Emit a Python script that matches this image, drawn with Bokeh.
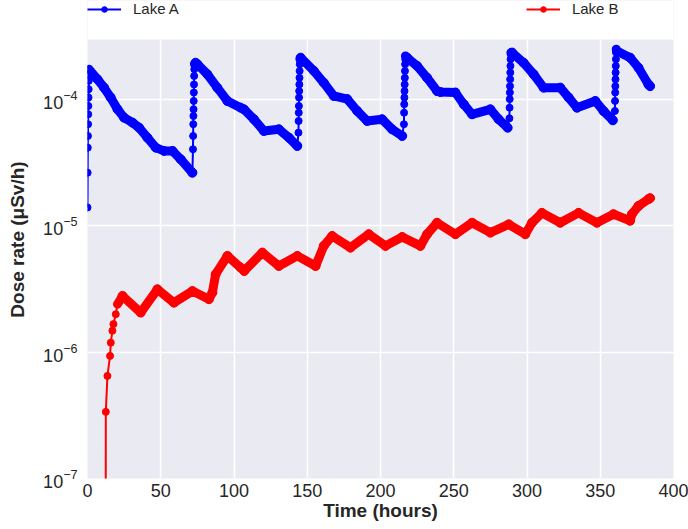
from bokeh.plotting import figure
from bokeh.models import Legend, LegendItem, FixedTicker, BoxAnnotation
from bokeh.embed import file_html
from bokeh.resources import INLINE

# ---------------- data ----------------
x_ticks = [0, 50, 100, 150, 200, 250, 300, 350, 400]
y_ticks = [1e-7, 1e-6, 1e-5, 1e-4]
y_data_top = 3e-4          # top of the grey plotting area

# Lake A: time (hours), dose rate (uSv/h), band flag (1 = dense decaying part, 0 = single dots)
lake_a_time = [
    0.0, 0.1, 0.2, 0.3, 0.4, 0.5, 0.6, 0.7, 0.8, 0.9, 1.0, 1.1,
    6.8, 11.3, 15.8, 20.5, 25.0, 30.7, 35.2, 40.9, 46.6, 52.2, 58.0, 63.6, 71.6,
    72.0, 72.1, 72.2, 72.3, 72.4, 72.5, 72.6, 72.7, 72.8, 72.9, 73.0,
    73.8, 75.0, 81.8, 88.6, 95.5, 104.5, 106.8, 113.6, 120.4, 130.6, 137.5, 143.2,
    144.0, 144.1, 144.2, 144.3, 144.4, 144.5, 144.6, 144.7, 144.8, 144.9, 145.0,
    145.5, 154.5, 161.3, 168.1, 177.3, 184.1, 190.9, 201.1, 207.9, 214.8,
    216.0, 216.1, 216.2, 216.3, 216.4, 216.5, 216.6, 216.7, 216.8, 216.9, 217.0,
    218.2, 225.0, 231.8, 238.6, 240.9, 251.1, 256.8, 262.5, 275.0, 280.6, 286.8,
    288.0, 288.1, 288.2, 288.3, 288.4, 288.5, 288.6, 288.7, 288.8, 288.9, 289.0,
    289.8, 297.7, 304.5, 311.3, 322.7, 328.4, 334.1, 346.6, 352.2, 358.6,
    360.0, 360.1, 360.2, 360.3, 360.4, 360.5, 360.6, 360.7, 360.8, 360.9,
    361.4, 370.4, 376.1, 382.9, 384.0,
]
lake_a_rate = [
    1.40e-5, 2.64e-5, 4.17e-5, 5.16e-5, 6.39e-5, 7.66e-5, 8.92e-5, 1.04e-4, 1.21e-4, 1.41e-4, 1.59e-4, 1.74e-4,
    1.45e-4, 1.245e-4, 1.04e-4, 8.39e-5, 7.2e-5, 6.58e-5, 6.0e-5, 5.0e-5, 4.17e-5, 3.93e-5, 3.93e-5, 3.37e-5, 2.64e-5,
    4.05e-5, 5.16e-5, 6.39e-5, 7.43e-5, 8.39e-5, 9.77e-5, 1.14e-4, 1.32e-4, 1.54e-4, 1.74e-4, 1.91e-4,
    1.96e-4, 1.91e-4, 1.59e-4, 1.245e-4, 9.77e-5, 8.64e-5, 8.39e-5, 7.0e-5, 5.65e-5, 5.83e-5, 5.0e-5, 4.3e-5,
    5.48e-5, 6.78e-5, 7.89e-5, 8.92e-5, 1.04e-4, 1.17e-4, 1.32e-4, 1.49e-4, 1.69e-4, 1.91e-4, 2.09e-4,
    2.15e-4, 1.69e-4, 1.36e-4, 1.07e-4, 1.01e-4, 8.14e-5, 6.78e-5, 7.0e-5, 5.83e-5, 5.16e-5,
    6.39e-5, 7.89e-5, 9.2e-5, 1.04e-4, 1.17e-4, 1.32e-4, 1.49e-4, 1.69e-4, 1.91e-4, 2.09e-4, 2.22e-4,
    2.15e-4, 1.85e-4, 1.49e-4, 1.17e-4, 1.15e-4, 1.14e-4, 9.2e-5, 7.66e-5, 8.39e-5, 7.0e-5, 6.0e-5,
    7.12e-5, 8.64e-5, 1.01e-4, 1.14e-4, 1.28e-4, 1.45e-4, 1.64e-4, 1.85e-4, 2.09e-4, 2.29e-4, 2.36e-4,
    2.36e-4, 1.96e-4, 1.59e-4, 1.245e-4, 1.245e-4, 1.04e-4, 8.64e-5, 9.77e-5, 8.14e-5, 6.87e-5,
    8.14e-5, 9.77e-5, 1.14e-4, 1.28e-4, 1.45e-4, 1.64e-4, 1.85e-4, 2.09e-4, 2.36e-4, 2.51e-4,
    2.43e-4, 2.15e-4, 1.79e-4, 1.32e-4, 1.28e-4,
]
lake_a_band = (
    [0] * 12 + [1] * 13 +
    [0] * 11 + [1] * 12 +
    [0] * 11 + [1] * 10 +
    [0] * 11 + [1] * 11 +
    [0] * 11 + [1] * 10 +
    [0] * 10 + [1] * 5
)

# Lake B
lake_b_time = [
    12.3, 12.5, 13.6, 15.4, 15.9, 17.0, 17.7, 19.3, 20.5,
    23.9, 36.3, 47.7, 59.0, 71.6, 82.9, 85.2, 87.5, 95.5, 104.5, 107.0,
    119.3, 130.6, 143.2, 155.7, 161.3, 167.0, 179.5, 192.0, 203.4, 214.8,
    227.2, 231.8, 238.6, 251.1, 262.5, 275.0, 287.5, 298.8, 303.4, 310.2,
    322.7, 335.2, 347.7, 359.0, 370.4, 371.6, 376.1, 382.9, 384.0,
]
lake_b_rate = [
    1e-9, 3.37e-7, 6.49e-7, 9.35e-7, 1.19e-6, 1.48e-6, 1.67e-6, 2.0e-6, 2.4e-6,
    2.79e-6, 2.06e-6, 3.15e-6, 2.47e-6, 3.05e-6, 2.63e-6, 2.96e-6, 4.15e-6, 5.79e-6, 4.68e-6, 4.4e-6,
    6.15e-6, 4.82e-6, 5.79e-6, 4.82e-6, 6.95e-6, 8.33e-6, 6.73e-6, 8.6e-6, 6.95e-6, 8.18e-6,
    6.95e-6, 8.6e-6, 1.06e-5, 8.6e-6, 1.06e-5, 8.85e-6, 1.03e-5, 8.6e-6, 1.06e-5, 1.27e-5,
    1.06e-5, 1.27e-5, 1.06e-5, 1.24e-5, 1.10e-5, 1.24e-5, 1.44e-5, 1.63e-5, 1.66e-5,
]
lake_b_band = [0] * 9 + [1] * 40

series_names = ["Lake A", "Lake B"]
series_colors = ["#0000FF", "#FF0000"]


def split(time, rate, band):
    dot_t, dot_v, band_t, band_v = [], [], [], []
    seg_x, seg_y = [], []
    cur_x, cur_y = [], []
    for i, (t, v, b) in enumerate(zip(time, rate, band)):
        if b:
            if not cur_x and i > 0:
                cur_x.append(time[i - 1])
                cur_y.append(rate[i - 1])
            cur_x.append(t)
            cur_y.append(v)
            band_t.append(t)
            band_v.append(v)
        else:
            if cur_x:
                seg_x.append(cur_x)
                seg_y.append(cur_y)
                cur_x, cur_y = [], []
            dot_t.append(t)
            dot_v.append(v)
    if cur_x:
        seg_x.append(cur_x)
        seg_y.append(cur_y)
    return dot_t, dot_v, band_t, band_v, seg_x, seg_y


FONT = "Liberation Sans"
TEXT = "#262626"
W, H = 688, 529
B_LEFT, B_RIGHT, B_TOP, B_BOTTOM = 87, 15, 0, 51
# the frame is extended upward by a white strip that holds the legend
y_view_top = 6.1e-4

p = figure(
    width=W, height=H,
    y_axis_type="log",
    x_range=(0, 400), y_range=(1e-7, y_view_top),
    output_backend="svg", toolbar_location=None,
    background_fill_color="#EAEAF2", border_fill_color="white",
    min_border_left=B_LEFT, min_border_right=B_RIGHT,
    min_border_top=B_TOP, min_border_bottom=B_BOTTOM,
)
p.outline_line_color = None

items = []
for name, color, (tt, vv, bb) in zip(
    series_names, series_colors,
    [(lake_a_time, lake_a_rate, lake_a_band), (lake_b_time, lake_b_rate, lake_b_band)],
):
    dot_t, dot_v, band_t, band_v, seg_x, seg_y = split(tt, vv, bb)
    thin = p.line(tt, vv, line_color=color, line_width=2)
    p.multi_line(seg_x, seg_y, line_color=color, line_width=9,
                 line_join="round", line_cap="round")
    p.scatter(band_t, band_v, marker="circle", size=9, fill_color=color, line_color=color)
    dots = p.scatter(dot_t, dot_v, marker="circle", size=7, fill_color=color, line_color=color)
    items.append(LegendItem(label=name, renderers=[thin, dots]))

# grid
for g in (p.xgrid, p.ygrid):
    g.grid_line_color = "white"
    g.grid_line_width = 1.5
p.ygrid.minor_grid_line_color = None

p.xaxis.ticker = FixedTicker(ticks=x_ticks)
p.yaxis.ticker = FixedTicker(ticks=y_ticks, minor_ticks=[])

for ax in (p.xaxis, p.yaxis):
    ax.axis_line_color = None
    ax.major_tick_line_color = None
    ax.minor_tick_line_color = None
    ax.major_tick_out = 0
    ax.major_tick_in = 0
    ax.minor_tick_out = 0
    ax.major_label_text_font = FONT
    ax.major_label_text_font_size = "18px"
    ax.major_label_text_color = TEXT
    ax.axis_label_text_font = FONT
    ax.axis_label_text_font_size = "19px"
    ax.axis_label_text_font_style = "bold"
    ax.axis_label_text_color = TEXT

p.xaxis.axis_label = "Time (hours)"
p.yaxis.axis_label = "Dose rate (μSv/h)"
p.xaxis.major_label_standoff = 5
p.xaxis.axis_label_standoff = 0
p.yaxis.major_label_standoff = 10
p.yaxis.axis_label_standoff = 12

# white strip above the grey plotting area
p.add_layout(BoxAnnotation(bottom=y_data_top, fill_color="white", fill_alpha=1.0,
                           line_color=None))

legend = Legend(
    items=items, orientation="horizontal",
    location="top_left",
    margin=0, padding=10, spacing=347,
    glyph_width=34, glyph_height=14, label_height=14, label_standoff=12,
    label_text_font=FONT, label_text_font_size="15px", label_text_color=TEXT,
    border_line_color=None, background_fill_alpha=0,
)
p.add_layout(legend)

open("out.html", "w").write(file_html(p, INLINE))
